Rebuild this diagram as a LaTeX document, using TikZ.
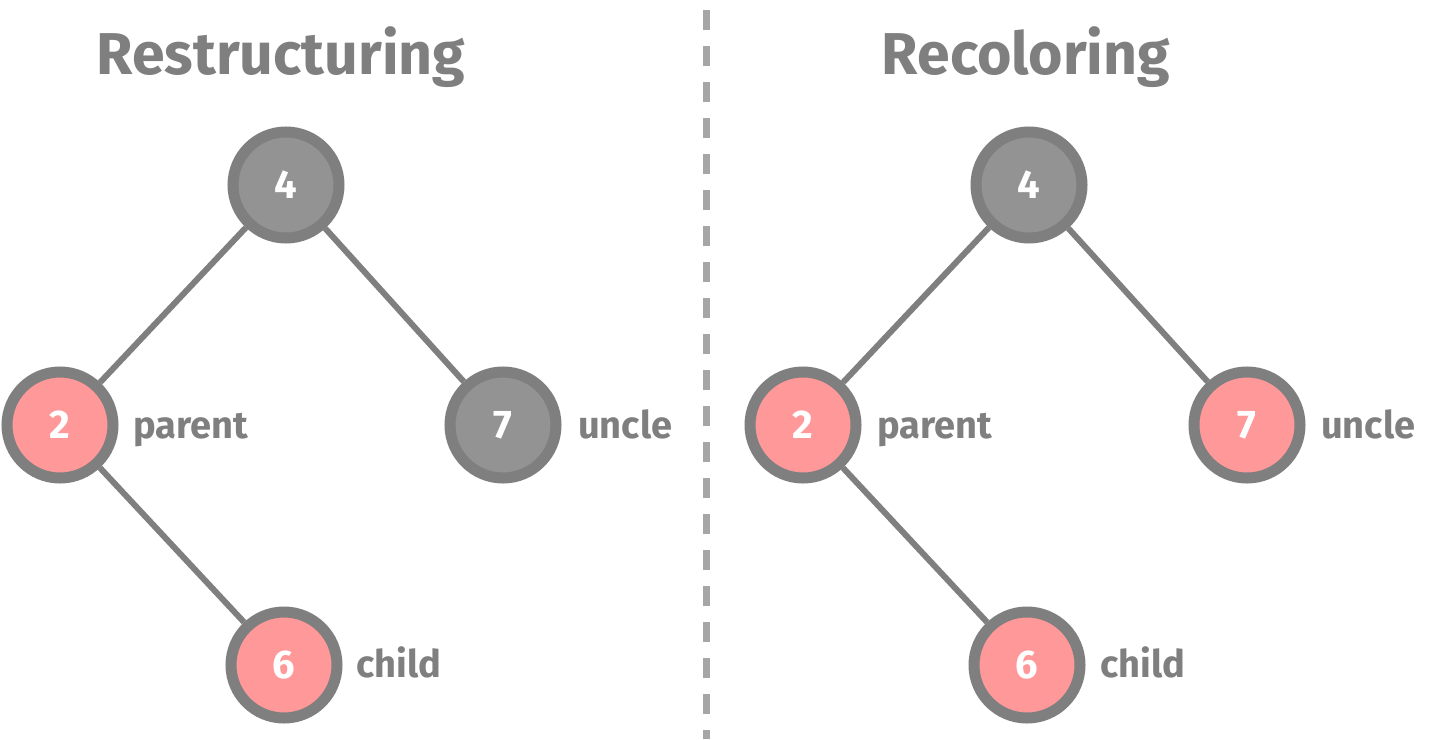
\documentclass[tikz,border=0pt]{standalone}
\usepackage{fontspec}
\setmainfont{Fira Sans}
\definecolor{edgegray}{HTML}{7F7F7F}
\definecolor{nodegray}{HTML}{939393}
\definecolor{nodepink}{HTML}{FF9999}
\definecolor{dashgray}{HTML}{A6A6A6}
\begin{document}
\begin{tikzpicture}[x=1pt,y=-1pt,
  treenode/.style={circle,draw=edgegray,line width=11pt,minimum size=106pt,inner sep=0pt,
    text=white,font=\fontsize{40}{46}\selectfont\bfseries},
  rednode/.style={treenode,fill=nodepink},
  blacknode/.style={treenode,fill=nodegray},
  edgeline/.style={draw=edgegray,line width=6pt},
  lbl/.style={anchor=base west,inner sep=0pt,text=edgegray,font=\fontsize{38}{44}\selectfont\bfseries},
  ttl/.style={text=edgegray,inner sep=0pt,font=\fontsize{59}{70}\selectfont\bfseries}]
\useasboundingbox (0,0) rectangle (1435,739);
\fill[white] (0,0) rectangle (1435,739);
% titles
\node[ttl,anchor=base] (t1) at (281,74) {Restructuring};
\node[ttl,anchor=base] (t2) at (1026,74) {Recoloring};
% divider
\coordinate (d1) at (706,10);
\coordinate (d2) at (706,739);
\draw[dashgray,line width=7pt,dash pattern=on 20pt off 16pt] (d1) -- (d2);
% left tree
\node[blacknode] (a4) at (286,185) {4};
\node[rednode] (a2) at (60,425) {2};
\node[blacknode] (a7) at (503,425) {7};
\node[rednode] (a6) at (284,665) {6};
% right tree
\node[blacknode] (b4) at (1029,185) {4};
\node[rednode] (b2) at (803,425) {2};
\node[rednode] (b7) at (1247,425) {7};
\node[rednode] (b6) at (1027,665) {6};
% edges
\draw[edgeline] (a4) -- (a2);
\draw[edgeline] (a4) -- (a7);
\draw[edgeline] (a2) -- (a6);
\draw[edgeline] (b4) -- (b2);
\draw[edgeline] (b4) -- (b7);
\draw[edgeline] (b2) -- (b6);
% labels
\node[lbl] (la2) at (133,438) {parent};
\node[lbl] (la7) at (578,438) {uncle};
\node[lbl] (la6) at (356,677) {child};
\node[lbl] (lb2) at (877,438) {parent};
\node[lbl] (lb7) at (1321,438) {uncle};
\node[lbl] (lb6) at (1100,677) {child};
\end{tikzpicture}
\end{document}
